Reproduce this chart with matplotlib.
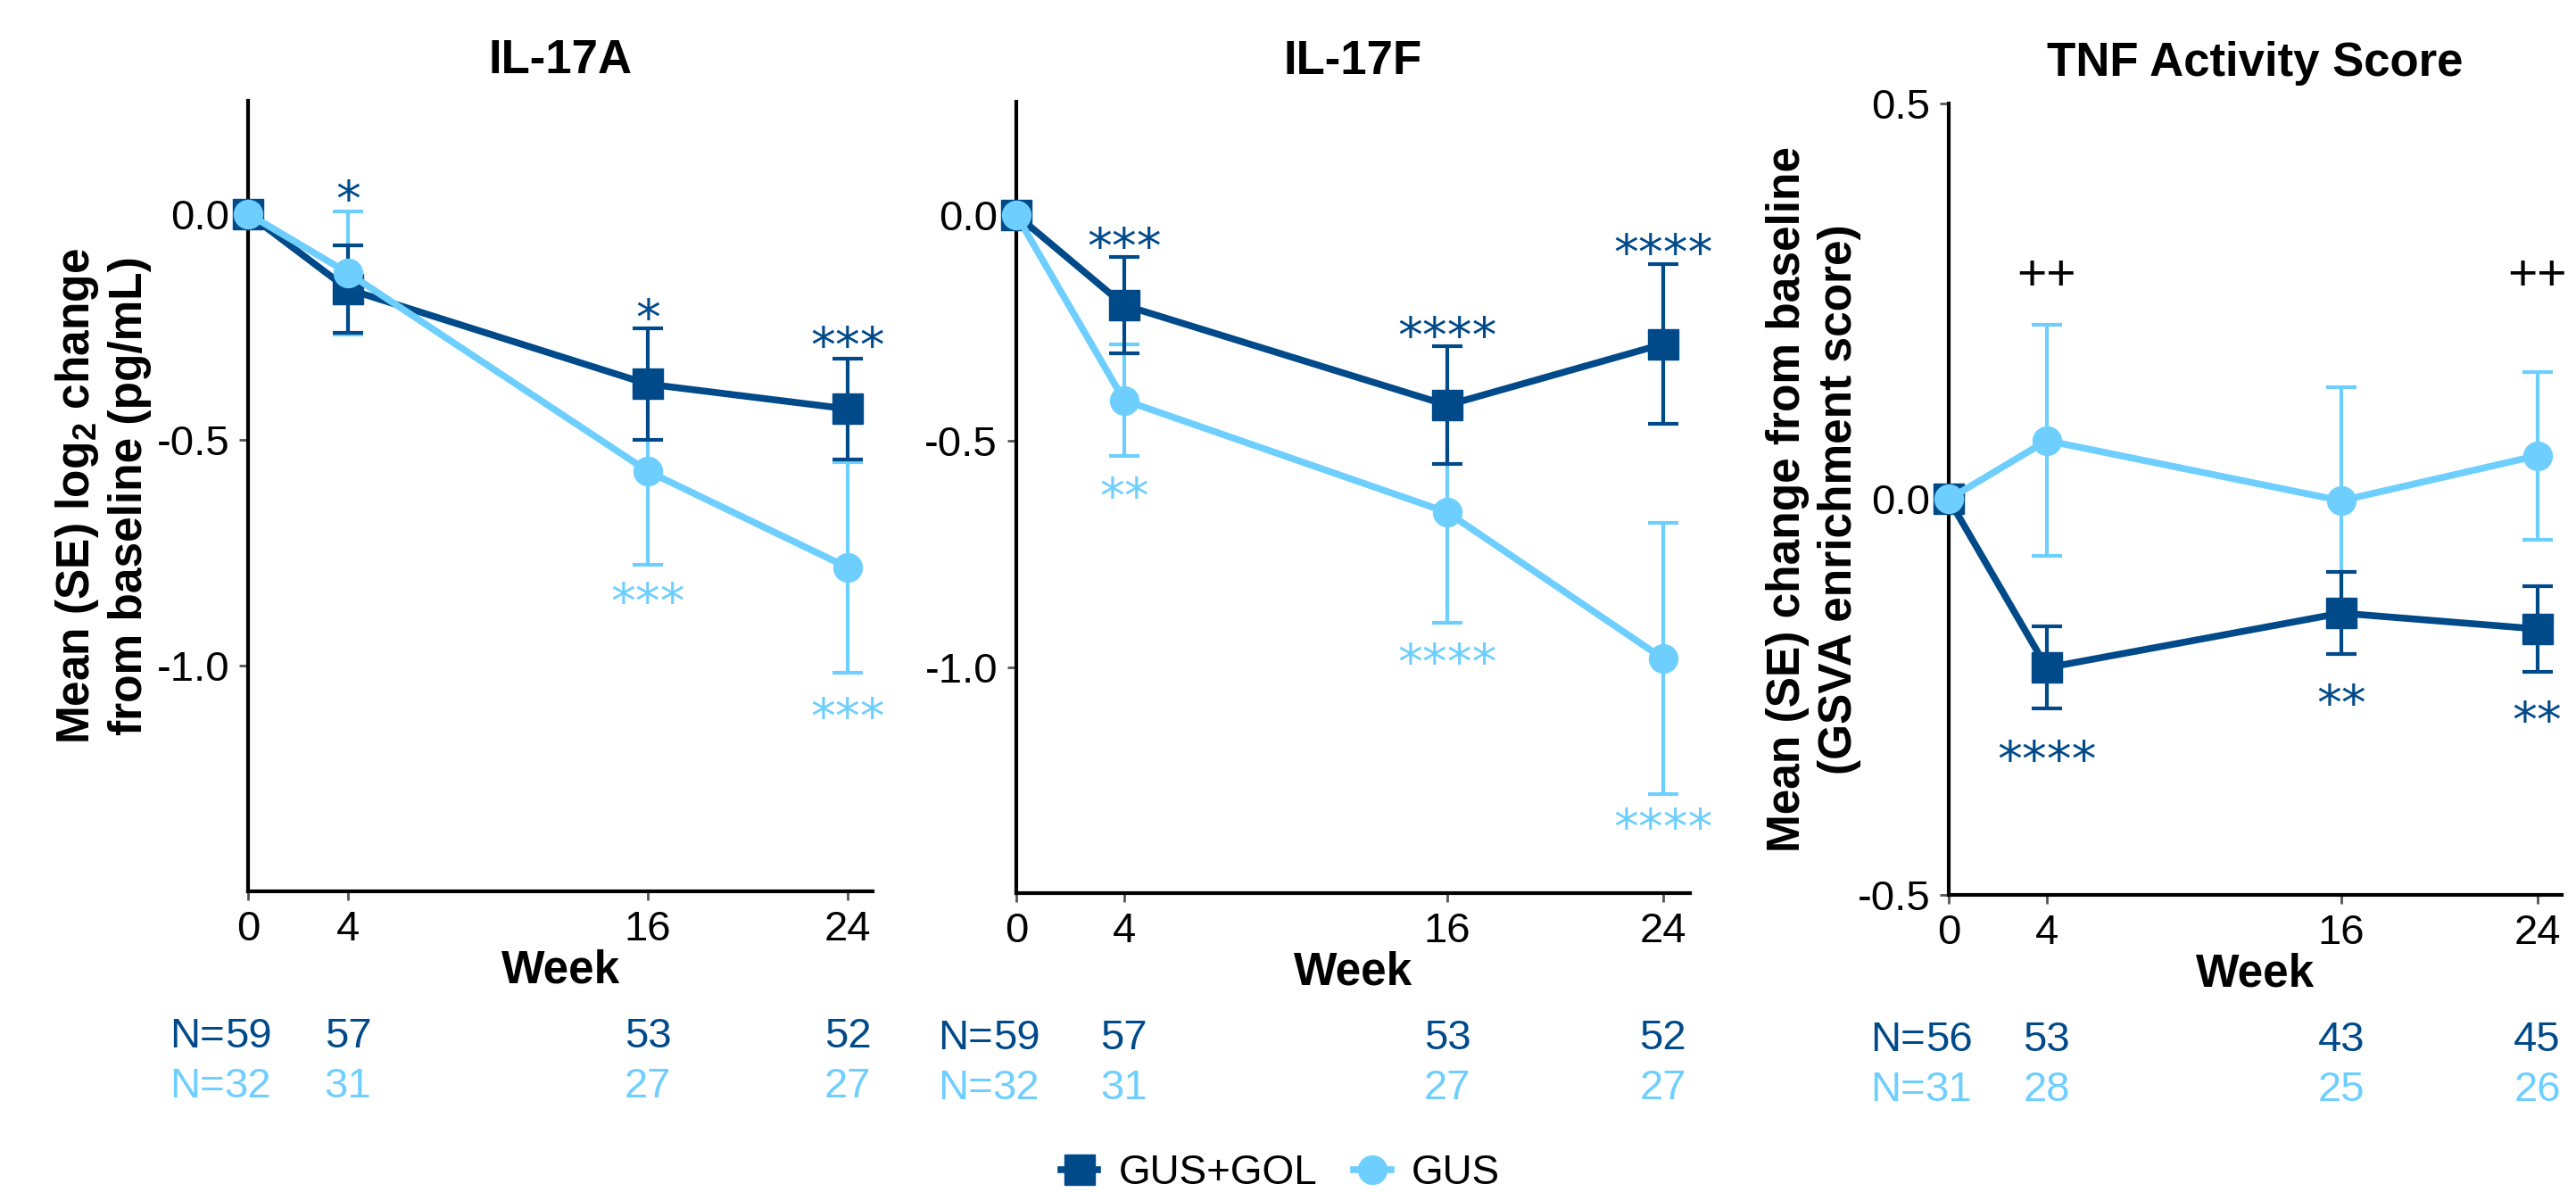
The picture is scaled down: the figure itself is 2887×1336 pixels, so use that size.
import matplotlib
matplotlib.use('Agg')
import matplotlib.pyplot as plt
from matplotlib.lines import Line2D
from matplotlib.transforms import blended_transform_factory

plt.rcParams['font.family'] = ['Liberation Sans', 'DejaVu Sans']

DARK = '#004A8A'
LIGHT = '#6ECFFF'

weeks = [0, 4, 16, 24]

# mean change and SE
il17a_gol = [0, -0.167, -0.377, -0.432]
il17a_gol_se = [0, 0.097, 0.123, 0.111]
il17a_gus = [0, -0.131, -0.570, -0.783]
il17a_gus_se = [0, 0.137, 0.207, 0.233]

il17f_gol = [0, -0.200, -0.421, -0.286]
il17f_gol_se = [0, 0.107, 0.130, 0.177]
il17f_gus = [0, -0.410, -0.658, -0.981]
il17f_gus_se = [0, 0.124, 0.245, 0.300]

tnf_gol = [0, -0.213, -0.144, -0.164]
tnf_gol_se = [0, 0.052, 0.052, 0.054]
tnf_gus = [0, 0.074, -0.002, 0.055]
tnf_gus_se = [0, 0.146, 0.143, 0.106]

# patients per visit
n_gol = [[59, 57, 53, 52], [59, 57, 53, 52], [56, 53, 43, 45]]
n_gus = [[32, 31, 27, 27], [32, 31, 27, 27], [31, 28, 25, 26]]

titles = ['IL-17A', 'IL-17F', 'TNF Activity Score']
ylabels = ['Mean (SE) log$_\\mathregular{2}$ change\nfrom baseline (pg/mL)', None,
           'Mean (SE) change from baseline\n(GSVA enrichment score)']

# significance marks: (week, y position, text, colour)
sig_marks = [
    [(4, 0.058, '*', DARK), (16, -0.204, '*', DARK), (24, -0.266, '***', DARK),
     (16, -0.832, '***', LIGHT), (24, -1.087, '***', LIGHT)],
    [(4, -0.044, '***', DARK), (16, -0.241, '****', DARK), (24, -0.058, '****', DARK),
     (4, -0.596, '**', LIGHT), (16, -0.963, '****', LIGHT), (24, -1.328, '****', LIGHT)],
    [(4, -0.314, '****', DARK), (16, -0.243, '**', DARK), (24, -0.264, '**', DARK)],
]
plus_marks = [[], [], [(4, 0.286, '++'), (24, 0.286, '++')]]

series = [
    (il17a_gol, il17a_gol_se, il17a_gus, il17a_gus_se),
    (il17f_gol, il17f_gol_se, il17f_gus, il17f_gus_se),
    (tnf_gol, tnf_gol_se, tnf_gus, tnf_gus_se),
]
ylims = [(-1.5, 0.25), (-1.5, 0.25), (-0.5, 0.5)]
yticks = [[0.0, -0.5, -1.0], [0.0, -0.5, -1.0], [-0.5, 0.0, 0.5]]
boxes = [[0.0963, 0.2522, 0.2425, 0.6632],
         [0.3945, 0.2507, 0.2615, 0.6640],
         [0.7565, 0.2493, 0.2380, 0.6639]]
ylabel_x = [-0.155, None, -0.142]
ylabel_ls = [1.2, None, 1.25]

fig = plt.figure(figsize=(28.87, 13.36), dpi=100)

for i in range(3):
    ax = fig.add_axes(boxes[i])
    gol, gol_se, gus, gus_se = series[i]

    ax.errorbar(weeks, gus, yerr=gus_se, fmt='none', ecolor=LIGHT, elinewidth=3,
                capsize=12, capthick=3, zorder=2, clip_on=False)
    ax.errorbar(weeks, gol, yerr=gol_se, fmt='none', ecolor=DARK, elinewidth=3,
                capsize=12, capthick=3, zorder=3, clip_on=False)
    ax.plot(weeks, gol, color=DARK, lw=5.5, marker='s', ms=24, zorder=4, clip_on=False)
    ax.plot(weeks, gus, color=LIGHT, lw=5.5, marker='o', ms=23, zorder=5, clip_on=False)

    ax.set_xlim(0, 25)
    ax.set_ylim(ylims[i])
    ax.set_xticks(weeks)
    ax.set_yticks(yticks[i])
    ax.set_yticklabels(['%.1f' % v for v in yticks[i]])
    ax.tick_params(labelsize=34, length=7, width=2, color='#555555', pad=8)
    for s in ['top', 'right']:
        ax.spines[s].set_visible(False)
    for s in ['left', 'bottom']:
        ax.spines[s].set_linewidth(3)

    ax.set_title(titles[i], fontsize=38, fontweight='bold', pad=22)
    ax.set_xlabel('Week', fontsize=37, fontweight='bold')
    ax.xaxis.label.set_va('center')
    ax.xaxis.set_label_coords(0.5, -0.1)
    if ylabels[i]:
        ax.set_ylabel(ylabels[i], fontsize=37, fontweight='bold', linespacing=ylabel_ls[i])
        ax.yaxis.set_label_coords(ylabel_x[i], 0.5)

    for wk, y, txt, col in sig_marks[i]:
        ax.annotate(txt, (wk, y), xytext=(0, -23), textcoords='offset points',
                    ha='center', va='baseline', fontsize=40, color=col,
                    family='DejaVu Sans', annotation_clip=False)
    for wk, y, txt in plus_marks[i]:
        ax.annotate(txt, (wk, y), xytext=(0, -14), textcoords='offset points',
                    ha='center', va='baseline', fontsize=41, color='black',
                    annotation_clip=False)

    # N counts under the x axis
    trans = blended_transform_factory(ax.transData, ax.transAxes)
    for row_y, counts, col in [(-0.184, n_gol[i], DARK), (-0.247, n_gus[i], LIGHT)]:
        for wk, n in zip(weeks, counts):
            ax.text(wk, row_y, str(n), transform=trans, ha='center', va='center',
                    fontsize=34, color=col)
        ax.annotate('N=', (0, row_y), xycoords=trans, xytext=(-19, 0),
                    textcoords='offset points', ha='right', va='center',
                    fontsize=34, color=col, annotation_clip=False)

handles = [Line2D([], [], color=DARK, lw=5.5, marker='s', ms=24),
           Line2D([], [], color=LIGHT, lw=5.5, marker='o', ms=23)]
fig.legend(handles, ['GUS+GOL', 'GUS'], loc='center', bbox_to_anchor=(0.497, 0.016),
           ncol=2, frameon=False, fontsize=33, handlelength=0.9, handletextpad=0.5,
           columnspacing=0.9)

fig.savefig('out.png', dpi=100)
